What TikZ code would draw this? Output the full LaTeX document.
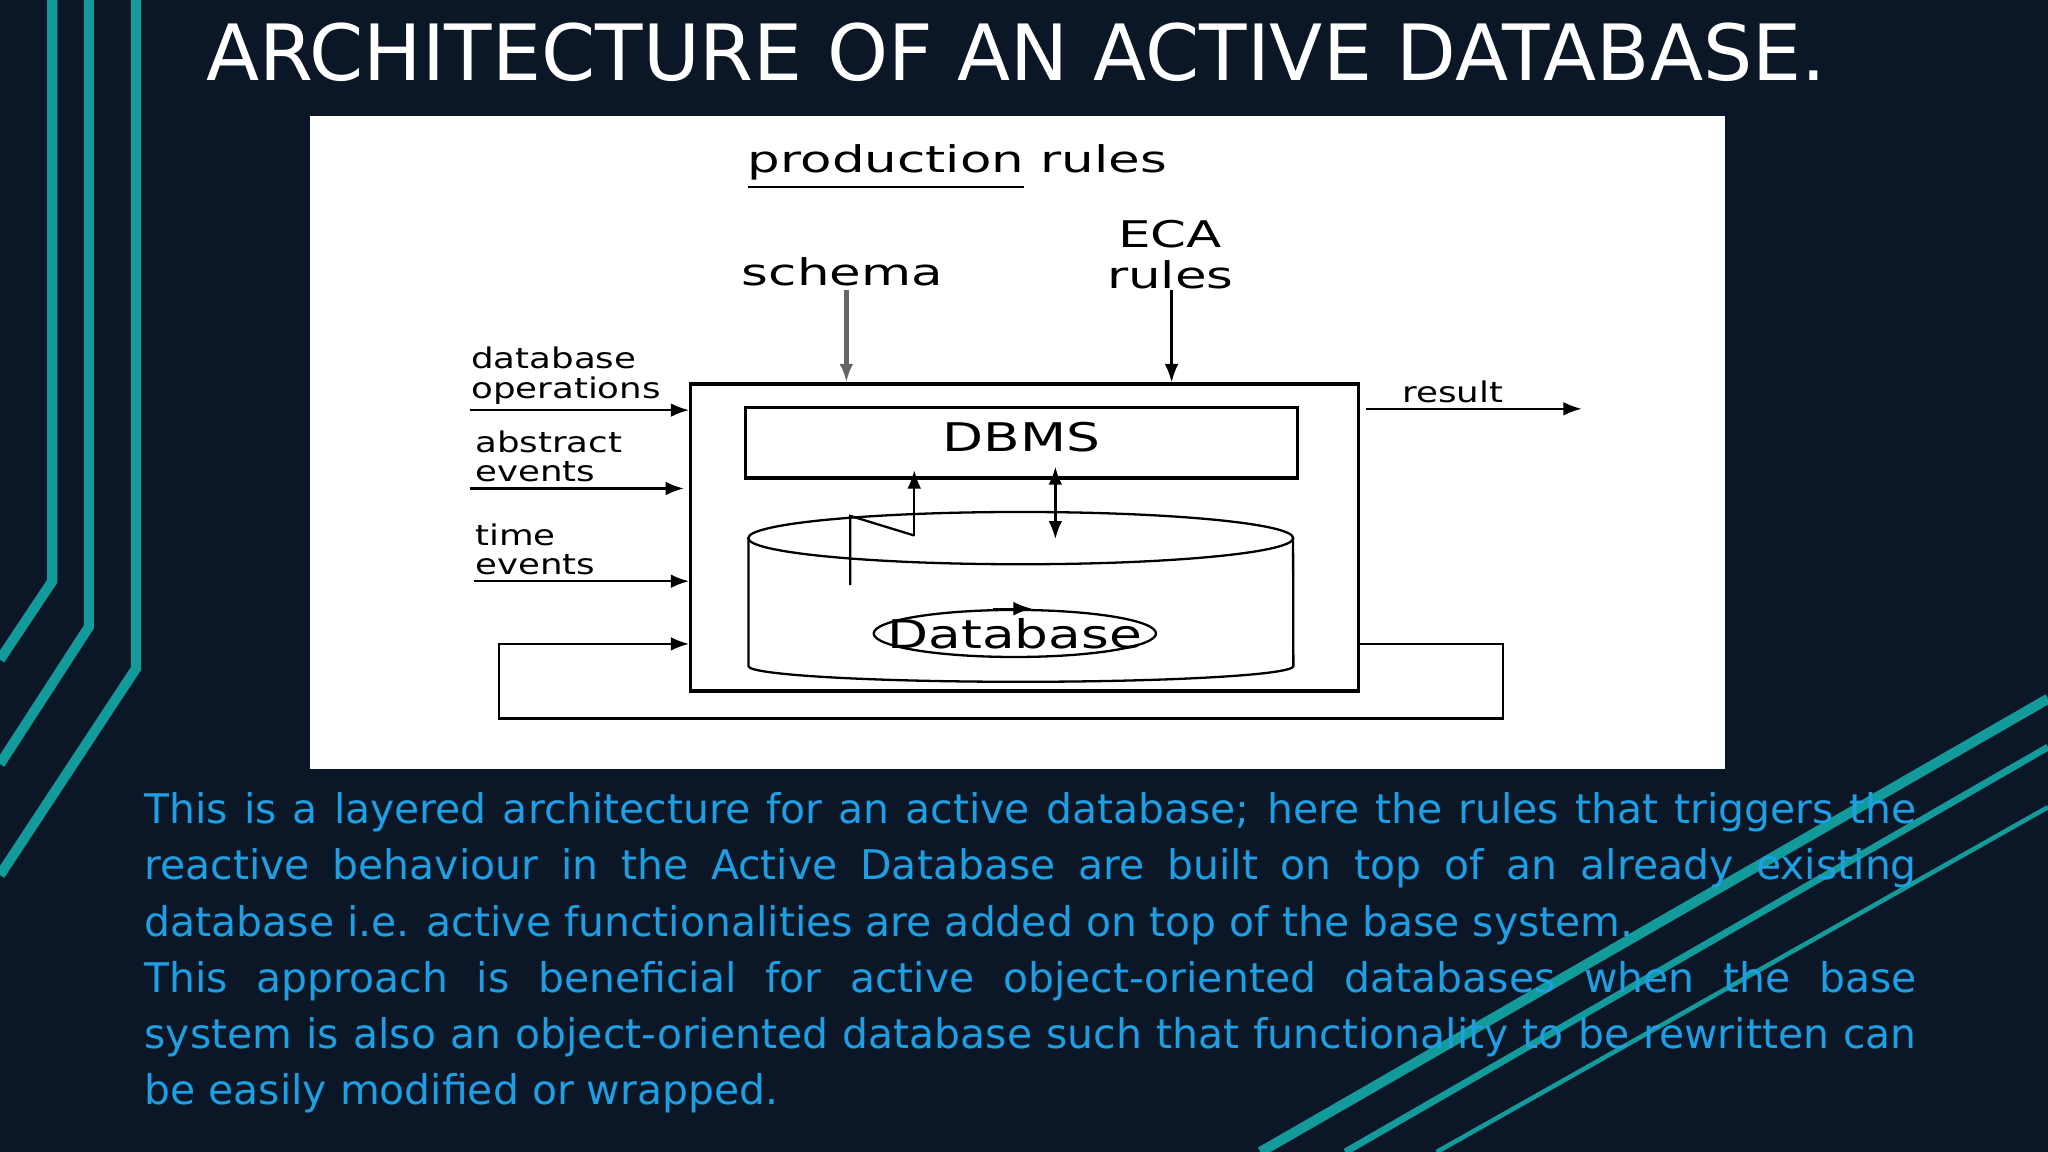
\documentclass[tikz,border=0pt]{standalone}
\usepackage{fontspec}
\setmainfont{DejaVu Sans}
\usetikzlibrary{shapes.geometric,arrows.meta}
\definecolor{navy}{HTML}{0B1626}
\definecolor{teal1}{HTML}{139A9A}
\definecolor{txtblue}{HTML}{1E9FE3}
\begin{document}
\begin{tikzpicture}[x=0.01cm,y=-0.01cm]
    	\tikzstyle{lbl}=[font=\fontsize{6.2pt}{6.4pt}\selectfont, xscale=1.25, align=left, inner sep=0pt, anchor=south west]
    	\tikzstyle{big}=[font=\fontsize{8pt}{9pt}\selectfont, xscale=1.4, inner sep=0pt]
    	\tikzstyle{inner}=[font=\fontsize{8.6pt}{9pt}\selectfont, xscale=1.35, inner sep=0pt]
    	\tikzstyle{arr}=[-{Latex[length=4pt,width=3pt]}, line width=0.5pt]
    	\tikzstyle{deco}=[teal1, line width=2.2pt]
    	\useasboundingbox (0,0) rectangle (1568,882);
    	
    	% Background
    	\fill[navy] (0,0) rectangle (1568,882);
    	\begin{scope}
    	\clip (0,0) rectangle (1568,882);
    	\draw[deco] (40,0) -- (40,445) -- (0,505);
    	\draw[deco] (68,0) -- (68,480) -- (0,585);
    	\draw[deco] (104,0) -- (104,512) -- (0,670);
    	\draw[deco] (965,882) -- (1568,535);
    	\draw[deco, line width=1.5pt] (1030,882) -- (1568,572);
    	\draw[deco, line width=1pt] (1100,882) -- (1568,618);
    	\end{scope}
    	
    	% Title
    	\node[white, font=\fontsize{16.9pt}{17pt}\selectfont] (title) at (778,40) {ARCHITECTURE OF AN ACTIVE DATABASE.};
    	
    	% Panel
    	\fill[white] (237,89) rectangle (1321,589);
    	
    	\node[big] (prod) at (733,128) {\underline{production} rules};
    	\node[big] (schema) at (645,208) {schema};
    	\node[big, align=center] (eca) at (896,195) {ECA\\rules};
    	
    	% Active layer and DBMS
    	\node[draw, line width=0.7pt, minimum width=5.11cm, minimum height=2.35cm, inner sep=0pt] (outer) at (784.5,411.5) {};
    	\node[draw, line width=0.7pt, minimum width=4.22cm, minimum height=0.54cm, inner sep=0pt] (dbms) at (782,339) {};
    	\node[inner] (dbmstxt) at (782,335) {DBMS};
    	
    	% Cylinder
    	\draw[line width=0.5pt] (573,412) -- (573,510) arc[start angle=180, end angle=360, x radius=2.085cm, y radius=0.12cm] -- (990,412);
    	\node[draw, ellipse, line width=0.5pt, minimum width=4.17cm, minimum height=0.4cm, inner sep=0pt] (top) at (781.5,412) {};
    	\node[draw, ellipse, line width=0.5pt, minimum width=2.16cm, minimum height=0.36cm, inner sep=0pt] (db) at (777,485) {};
    	\node[inner] (dbtxt) at (777,485) {Database};
    	\coordinate (dbl) at (760,466);
    	\coordinate (dbr) at (790,466);
    	\draw[arr] (dbl) -- (dbr);
    	
    	% Internal connectors
    	\coordinate (z1) at (651,448);
    	\coordinate (z2) at (651,395);
    	\coordinate (z3) at (700,410);
    	\draw[line width=0.5pt] (z1) -- (z2) -- (z3);
    	\draw[arr] (z3) -- (700,360);
    	\coordinate (d1) at (808,357);
    	\coordinate (d2) at (808,413);
    	\draw[{Latex[length=4pt,width=3pt]}-{Latex[length=4pt,width=3pt]}, line width=0.7pt] (d1) -- (d2);
    	
    	% Rules
    	\coordinate (s1) at (648,222);
    	\coordinate (e1) at (897,222);
    	\draw[arr, line width=1pt, gray!80!black] (s1) -- (s1 |- outer.north);
    	\draw[arr] (e1) -- (e1 |- outer.north);
    	
    	% Inputs
    	\node[lbl] (ops) at (360,310) {database\\operations};
    	\node[lbl] (abs) at (363,370) {abstract\\events};
    	\node[lbl] (time) at (363,441) {time\\events};
    	\coordinate (i1) at (360,314);
    	\coordinate (i2) at (360,374);
    	\coordinate (i3) at (363,445);
    	\draw[arr] (i1) -- (i1 -| outer.west);
    	\draw[arr] (i2) -- ([xshift=-0.04cm]i2 -| outer.west);
    	\draw[arr] (i3) -- (i3 -| outer.west);
    	
    	% Output
    	\node[lbl] (res) at (1073,309) {result};
    	\coordinate (o1) at (1046,313);
    	\coordinate (o2) at (1211,313);
    	\draw[arr] (o1) -- (o2);
    	
    	% Feedback loop
    	\coordinate (f1) at (1040,493);
    	\draw[arr] (f1) -- (1151,493) -- (1151,550) -- (382,550) -- (382,493) -- (f1 -| outer.west);
    	
    	% Description
    	\node[txtblue, anchor=north west, text width=13.56cm, align=justify, inner sep=0pt,
    	      font=\fontsize{8.9pt}{12.25pt}\selectfont] (desc) at (110,606)
    	{\hyphenpenalty=10000 This is a layered architecture for an active database; here the rules that triggers the\linebreak reactive behaviour in the Active Database are built on top of an already existing\linebreak database i.e. active functionalities are added on top of the base system.\par
    	This approach is beneficial for active object-oriented databases when the base\linebreak system is also an object-oriented database such that functionality to be rewritten can\linebreak be easily modified or wrapped.};
\end{tikzpicture}
\end{document}
